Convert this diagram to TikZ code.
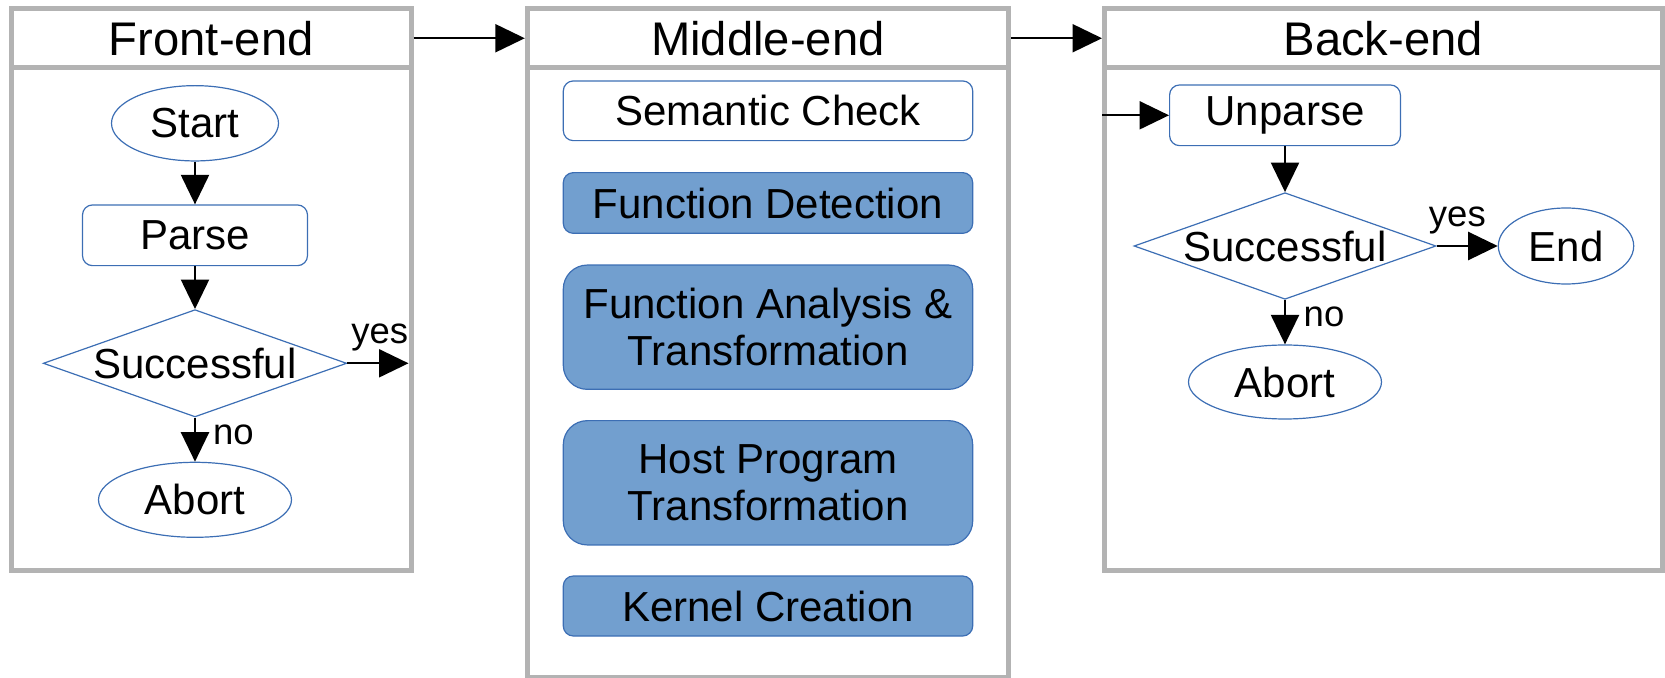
\documentclass[tikz,border=0pt]{standalone}
\usepackage{fontspec}
\setmainfont{Liberation Sans}
\usetikzlibrary{arrows.meta,shapes.geometric,positioning}

\definecolor{framegray}{HTML}{B3B3B3}
\definecolor{nodeline}{HTML}{3C6EB4}
\definecolor{nodefill}{HTML}{729FCF}

\begin{document}
\begin{tikzpicture}[x=0.5pt, y=-0.5pt,
  every node/.style={font=\fontsize{21}{23.75}\selectfont},
  framebox/.style={draw=framegray, line width=2.5pt, rectangle, inner sep=0pt},
  headfont/.style={font=\fontsize{23.6}{28}\selectfont},
  term/.style={ellipse, draw=nodeline, line width=0.6pt, inner sep=0pt},
  proc/.style={rectangle, rounded corners=5pt, draw=nodeline, line width=0.6pt, inner sep=0pt},
  decision/.style={diamond, draw=nodeline, line width=0.6pt, inner sep=0pt, aspect=2.83},
  stage/.style={proc, minimum width=204.7pt, align=center},
  stagefill/.style={stage, fill=nodefill},
  stagetall/.style={stagefill, rounded corners=12pt},
  flow/.style={-{Triangle[length=14.75pt,width=14pt]}, line width=1.1pt},
  lbl/.style={font=\fontsize{18.25}{20}\selectfont, inner sep=1pt}
]
\useasboundingbox (0,0) rectangle (1665,678);

% the three phases: header strip + body
\foreach \nm/\cx/\w/\bh/\by/\ttl in {front/211.25/199.75/251.25/319.25/Front-end,
    mid/767.9/240.6/304.5/372.5/Middle-end,
    back/1383.25/278.75/251.25/319.25/Back-end} {
  \node[framebox, minimum width=\w pt, minimum height=29.75pt, headfont] (\nm head) at (\cx,38.25) {\ttl};
  \node[framebox, minimum width=\w pt, minimum height=\bh pt] (\nm body) at (\cx,\by) {};
}

% front-end flow
\node[term, minimum width=83.5pt, minimum height=37.65pt] (start) at (195,123.3) {Start};
\node[proc, minimum width=112.5pt, minimum height=30.35pt] (parse) at (195,235.3) {Parse};
\node[decision, minimum width=151.75pt, minimum height=53.65pt] (okfront) at (195,363.3) {Successful};
\node[term, minimum width=96.5pt, minimum height=37.5pt] (abortfront) at (195,499.8) {Abort};
\coordinate (yesfront) at (frontbody.east |- okfront);

% middle-end stages
\foreach \nm/\cy/\h/\sty/\txt in {semantic/110.8/29.85/stage/Semantic Check,
    fdetect/203/30.35/stagefill/Function Detection,
    fanalysis/327.2/62.15/stagetall/{Function Analysis \&\\Transformation},
    hosttrans/482.8/62.15/stagetall/{Host Program\\Transformation},
    kernel/606/30/stagefill/Kernel Creation} {
  \node[\sty, minimum height=\h pt] (\nm) at (768,\cy) {\txt};
}

% back-end flow
\node[proc, minimum width=115.4pt, minimum height=30.35pt] (unparse) at (1285,115.3) {Unparse};
\node[decision, minimum width=151pt, minimum height=53.3pt] (okback) at (1285,246) {Successful};
\node[term, minimum width=67.7pt, minimum height=38pt] (finish) at (1566,246) {End};
\node[term, minimum width=96.5pt, minimum height=37pt] (abortback) at (1285,382) {Abort};
\coordinate (intoback) at (backbody.west |- unparse);

% connectors
\draw[flow] (fronthead.east) -- (midhead.west);
\draw[flow] (midhead.east) -- (backhead.west);
\draw[flow] (start) -- (parse);
\draw[flow] (parse) -- (okfront);
\draw[flow, shorten >=2.5pt] (okfront.east) -- node[lbl, above=4.4pt, pos=0.49] {yes} (yesfront);
\draw[flow] (okfront.south) -- node[lbl, right=7.5pt, pos=0.39] {no} (abortfront);
\draw[flow] (intoback) -- (unparse.west);
\draw[flow] (unparse) -- (okback);
\draw[flow] (okback.east) -- node[lbl, above=4.4pt, pos=0.34] {yes} (finish.west);
\draw[flow] (okback.south) -- node[lbl, right=7.8pt, pos=0.38] {no} (abortback);

\end{tikzpicture}
\end{document}
